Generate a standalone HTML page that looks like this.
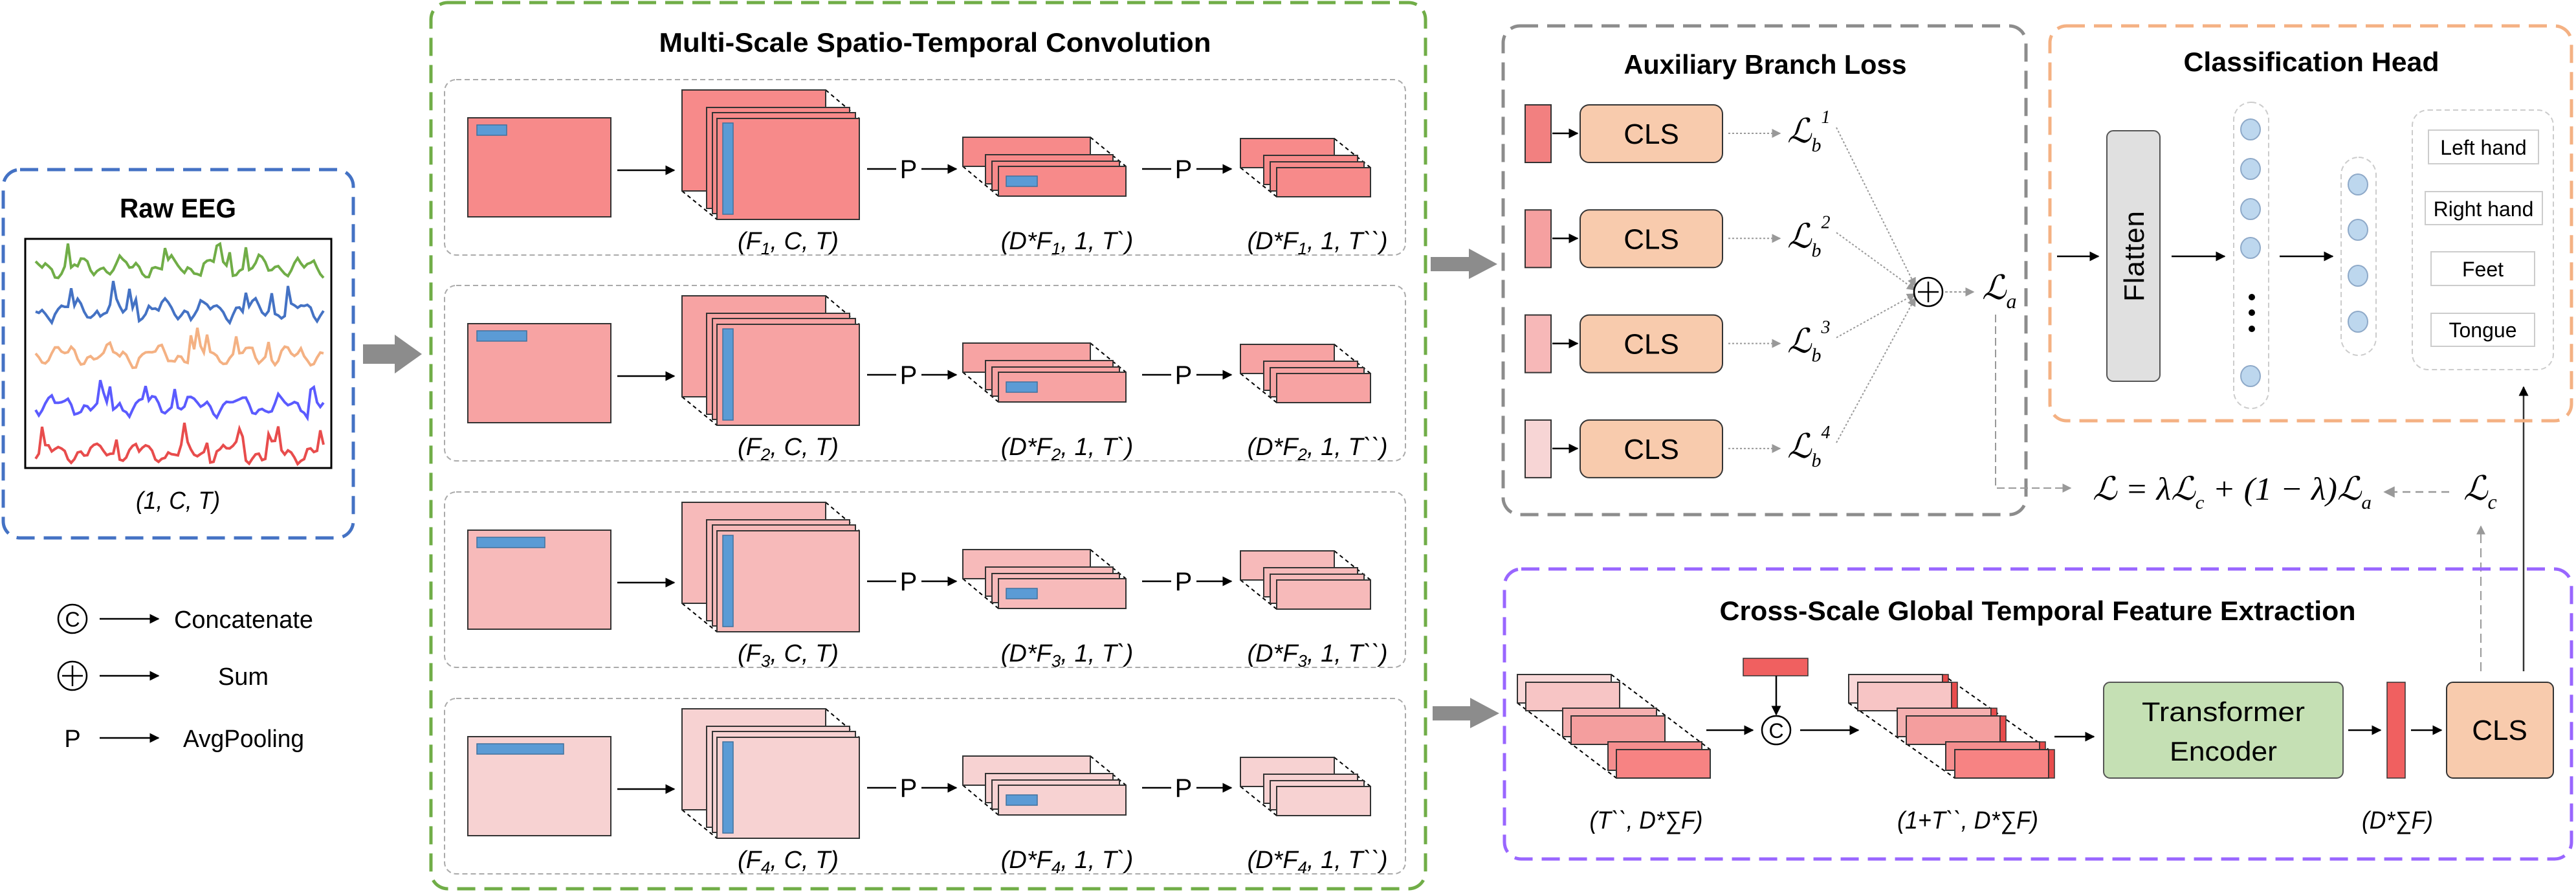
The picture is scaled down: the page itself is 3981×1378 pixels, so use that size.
<!DOCTYPE html>
<html><head><meta charset="utf-8"><style>
html,body{margin:0;padding:0;background:#fff}
svg{display:block}
text{font-family:"Liberation Sans",sans-serif}
.t{font-weight:bold;font-size:42px}
.lab{font-style:italic;font-size:38px}
.m{font-family:"Liberation Serif","DejaVu Serif",serif;font-style:italic}
</style></head><body>
<svg xmlns="http://www.w3.org/2000/svg" width="3981" height="1378" viewBox="0 0 3981 1378">
<defs>
<marker id="a" viewBox="0 0 10 10" refX="9" refY="5" markerWidth="6" markerHeight="6" orient="auto"><path d="M0,0L10,5L0,10z" fill="#000"/></marker>
<marker id="g" viewBox="0 0 10 10" refX="9" refY="5" markerWidth="7" markerHeight="7" orient="auto"><path d="M0,0L10,5L0,10z" fill="#999"/></marker>
</defs>

<!-- Raw EEG -->
<rect x="5" y="262" width="541" height="569" rx="26" fill="none" stroke="#4472C4" stroke-width="5" stroke-dasharray="28,14"/>
<text x="275" y="336" class="t" text-anchor="middle" textLength="180" lengthAdjust="spacingAndGlyphs">Raw EEG</text>
<rect x="39" y="369" width="473" height="354" fill="#fff" stroke="#000" stroke-width="3"/>
<g id="waves" fill="none" stroke-width="4"></g>
<text x="275" y="786" class="lab" text-anchor="middle" textLength="130" lengthAdjust="spacingAndGlyphs">(1, C, T)</text>
<polygon points="561,532 610,532 610,517 652,547 610,577 610,562 561,562" fill="#8c8c8c"/>

<!-- Legend -->
<circle cx="112" cy="956" r="22" fill="none" stroke="#000" stroke-width="2.5"/>
<text x="112" y="968" font-size="32" text-anchor="middle">C</text>
<line x1="154" y1="956" x2="245" y2="956" stroke="#000" stroke-width="2.5" marker-end="url(#a)"/>
<text x="269" y="970" font-size="38" textLength="215" lengthAdjust="spacingAndGlyphs">Concatenate</text>
<circle cx="112" cy="1044" r="22" fill="none" stroke="#000" stroke-width="2.5"/>
<path d="M96,1044H128M112,1028V1060" stroke="#000" stroke-width="2.5"/>
<line x1="154" y1="1044" x2="245" y2="1044" stroke="#000" stroke-width="2.5" marker-end="url(#a)"/>
<text x="376" y="1058" font-size="38" text-anchor="middle">Sum</text>
<text x="112" y="1154" font-size="38" text-anchor="middle">P</text>
<line x1="154" y1="1140" x2="245" y2="1140" stroke="#000" stroke-width="2.5" marker-end="url(#a)"/>
<text x="283" y="1154" font-size="38" textLength="187" lengthAdjust="spacingAndGlyphs">AvgPooling</text>

<!-- Multi-scale box -->
<rect x="666" y="4" width="1537" height="1369" rx="26" fill="none" stroke="#70AD47" stroke-width="5" stroke-dasharray="28,14"/>
<text x="1445" y="80" class="t" text-anchor="middle" textLength="853" lengthAdjust="spacingAndGlyphs">Multi-Scale Spatio-Temporal Convolution</text>

<g id="rows"></g>

<polygon points="2211,397 2270,397 2270,384 2314,408 2270,431 2270,419 2211,419" fill="#8c8c8c"/>
<polygon points="2214,1091 2272,1091 2272,1078 2317,1102 2272,1125 2272,1113 2214,1113" fill="#8c8c8c"/>

<!-- Auxiliary -->
<rect x="2323" y="40" width="808" height="755" rx="26" fill="none" stroke="#8c8c8c" stroke-width="5" stroke-dasharray="28,14"/>
<text x="2728" y="114" class="t" text-anchor="middle" textLength="437" lengthAdjust="spacingAndGlyphs">Auxiliary Branch Loss</text>
<g id="aux"></g>
<circle cx="2980" cy="451" r="22" fill="#fff" stroke="#000" stroke-width="2.5"/>
<path d="M2964,451H2996M2980,435V467" stroke="#000" stroke-width="2.5"/>
<line x1="3006" y1="451" x2="3050" y2="451" stroke="#999" stroke-width="2" stroke-dasharray="4,3" marker-end="url(#g)"/>
<text x="3063" y="462" class="m" font-size="52">ℒ<tspan font-size="32" dy="14">a</tspan></text>
<polyline points="3084,486 3084,754 3200,754" fill="none" stroke="#999" stroke-width="2" stroke-dasharray="12,6" marker-end="url(#g)"/>
<text x="3234" y="772" class="m" font-size="50" textLength="431" lengthAdjust="spacingAndGlyphs">ℒ = λℒ<tspan font-size="30" dy="14">c</tspan><tspan dy="-14"> + (1 − λ)ℒ</tspan><tspan font-size="30" dy="14">a</tspan></text>
<line x1="3785" y1="760" x2="3685" y2="760" stroke="#999" stroke-width="2.5" stroke-dasharray="12,8" marker-end="url(#g)"/>
<text x="3807" y="772" class="m" font-size="52">ℒ<tspan font-size="32" dy="14">c</tspan></text>
<line x1="3834" y1="1037" x2="3834" y2="813" stroke="#999" stroke-width="2" stroke-dasharray="14,8" marker-end="url(#g)"/>
<line x1="3900" y1="1037" x2="3900" y2="598" stroke="#333" stroke-width="2.5" marker-end="url(#a)"/>

<!-- Classification head -->
<rect x="3168" y="40" width="806" height="610" rx="26" fill="none" stroke="#F4B183" stroke-width="5" stroke-dasharray="28,14"/>
<text x="3572" y="110" class="t" text-anchor="middle" textLength="395" lengthAdjust="spacingAndGlyphs">Classification Head</text>
<line x1="3179" y1="396" x2="3243" y2="396" stroke="#000" stroke-width="2.5" marker-end="url(#a)"/>
<rect x="3256" y="202" width="82" height="387" rx="10" fill="#E0E0E0" stroke="#555" stroke-width="2"/>
<text transform="translate(3313,396) rotate(-90)" font-size="44" text-anchor="middle" textLength="140" lengthAdjust="spacing">Flatten</text>
<line x1="3356" y1="396" x2="3438" y2="396" stroke="#000" stroke-width="2.5" marker-end="url(#a)"/>
<rect x="3452" y="158" width="54" height="473" rx="27" fill="none" stroke="#ccc" stroke-width="2" stroke-dasharray="8,5"/>
<g fill="#BDD7EE" stroke="#8EA9C8" stroke-width="2">
<ellipse cx="3478" cy="200" rx="15" ry="16"/><ellipse cx="3478" cy="261" rx="15" ry="16"/><ellipse cx="3478" cy="323" rx="15" ry="16"/><ellipse cx="3478" cy="383" rx="15" ry="16"/><ellipse cx="3478" cy="581" rx="15" ry="16"/>
<ellipse cx="3644" cy="285" rx="15" ry="16"/><ellipse cx="3644" cy="355" rx="15" ry="16"/><ellipse cx="3644" cy="426" rx="15" ry="16"/><ellipse cx="3644" cy="497" rx="15" ry="16"/>
</g>
<g fill="#000"><circle cx="3480" cy="459" r="5"/><circle cx="3480" cy="483" r="5"/><circle cx="3480" cy="508" r="5"/></g>
<line x1="3523" y1="396" x2="3605" y2="396" stroke="#000" stroke-width="2.5" marker-end="url(#a)"/>
<rect x="3618" y="243" width="54" height="306" rx="27" fill="none" stroke="#ccc" stroke-width="2" stroke-dasharray="8,5"/>
<rect x="3728" y="170" width="218" height="401" rx="24" fill="none" stroke="#ccc" stroke-width="2" stroke-dasharray="8,5"/>
<g fill="#fff" stroke="#ccc" stroke-width="2">
<rect x="3753" y="201" width="170" height="52"/><rect x="3748" y="296" width="181" height="51"/><rect x="3757" y="389" width="160" height="52"/><rect x="3757" y="484" width="160" height="51"/>
</g>
<g font-size="32" text-anchor="middle">
<text x="3838" y="239">Left hand</text><text x="3838" y="334">Right hand</text><text x="3837" y="427">Feet</text><text x="3837" y="521">Tongue</text>
</g>

<!-- Cross-scale -->
<rect x="2325" y="879" width="1649" height="448" rx="26" fill="none" stroke="#9966FF" stroke-width="5" stroke-dasharray="28,14"/>
<text x="3149" y="958" class="t" text-anchor="middle" textLength="983" lengthAdjust="spacingAndGlyphs">Cross-Scale Global Temporal Feature Extraction</text>
<g id="cs"></g>
<line x1="2637" y1="1128" x2="2709" y2="1128" stroke="#000" stroke-width="2.5" marker-end="url(#a)"/>
<rect x="2694" y="1017" width="100" height="27" fill="#F06060" stroke="#333" stroke-width="1.5"/>
<line x1="2745" y1="1044" x2="2745" y2="1104" stroke="#000" stroke-width="2.5" marker-end="url(#a)"/>
<ellipse cx="2745" cy="1128" rx="22" ry="22" fill="#fff" stroke="#000" stroke-width="2.5"/>
<text x="2745" y="1140" font-size="32" text-anchor="middle">C</text>
<line x1="2782" y1="1128" x2="2872" y2="1128" stroke="#000" stroke-width="2.5" marker-end="url(#a)"/>
<line x1="3175" y1="1138" x2="3236" y2="1138" stroke="#000" stroke-width="2.5" marker-end="url(#a)"/>
<rect x="3251" y="1054" width="370" height="148" rx="10" fill="#C5E0B4" stroke="#555" stroke-width="2"/>
<text x="3436" y="1114" font-size="42" text-anchor="middle" textLength="252" lengthAdjust="spacingAndGlyphs">Transformer</text>
<text x="3436" y="1175" font-size="42" text-anchor="middle" textLength="166" lengthAdjust="spacingAndGlyphs">Encoder</text>
<line x1="3629" y1="1128" x2="3679" y2="1128" stroke="#000" stroke-width="2.5" marker-end="url(#a)"/>
<rect x="3689" y="1054" width="28" height="148" fill="#F06060" stroke="#333" stroke-width="1.5"/>
<line x1="3726" y1="1128" x2="3773" y2="1128" stroke="#000" stroke-width="2.5" marker-end="url(#a)"/>
<rect x="3781" y="1054" width="165" height="148" rx="10" fill="#F8CBAD" stroke="#333" stroke-width="2"/>
<text x="3863" y="1143" font-size="44" text-anchor="middle">CLS</text>
<text x="2544" y="1280" class="lab" text-anchor="middle" textLength="175" lengthAdjust="spacingAndGlyphs">(T``, D*∑F)</text>
<text x="3041" y="1280" class="lab" text-anchor="middle" textLength="218" lengthAdjust="spacingAndGlyphs">(1+T``, D*∑F)</text>
<text x="3705" y="1280" class="lab" text-anchor="middle" textLength="110" lengthAdjust="spacingAndGlyphs">(D*∑F)</text>
</svg>
<script>
var NS="http://www.w3.org/2000/svg";
function el(p,t,a,txt){var e=document.createElementNS(NS,t);for(var k in a)e.setAttribute(k,a[k]);if(txt!=null)e.innerHTML=txt;p.appendChild(e);return e;}
var W=document.getElementById('waves');
var cols=["#70AD47","#4472C4","#F4B183","#5B5BFF","#E84C4C"],ys=[413,479,549,626,699];
var seed=7;function r(){seed=(seed*9301+49297)%233280;return seed/233280;}
for(var i=0;i<5;i++){var d="";for(var x=55;x<=500;x+=5){var y=ys[i]+Math.sin(x*0.09+i)*10+Math.sin(x*0.23+i*2)*7+(r()-0.5)*8;if(r()<0.06)y-=28;d+=(x==55?"M":"L")+x+","+y.toFixed(1);}el(W,"path",{d:d,stroke:cols[i]});}
var R=document.getElementById('rows');
var fills=["#F78A8A","#F7A3A3","#F7BABA","#F7D2D2"],bw=[46,77,105,134],sub=["1","2","3","4"];
function stack(g,layers,fill,dl){
 el(g,"line",{x1:dl[0],y1:dl[1],x2:dl[2],y2:dl[3],stroke:"#000","stroke-width":2,"stroke-dasharray":"6,5"});
 el(g,"line",{x1:dl[4],y1:dl[5],x2:dl[6],y2:dl[7],stroke:"#000","stroke-width":2,"stroke-dasharray":"6,5"});
 layers.forEach(function(L){el(g,"rect",{x:L[0],y:L[1],width:L[2],height:L[3],fill:fill,stroke:"#333","stroke-width":2});});
}
for(var i=0;i<4;i++){
 var g=el(R,"g",{transform:"translate(0,"+[0,318,637,956][i]+")"});
 el(g,"rect",{x:687,y:123,width:1485,height:271,rx:18,fill:"none",stroke:"#aaa","stroke-width":2,"stroke-dasharray":"8,5"});
 el(g,"rect",{x:723,y:182,width:221,height:153,fill:fills[i],stroke:"#333","stroke-width":2});
 el(g,"rect",{x:737,y:193,width:bw[i],height:16,fill:"#5B9BD5",stroke:"#41719C","stroke-width":1.5});
 el(g,"line",{x1:954,y1:263,x2:1042,y2:263,stroke:"#000","stroke-width":2.5,"marker-end":"url(#a)"});
 stack(g,[[1054,139,222,156],[1092,166,221,156],[1101,174,221,156],[1108,183,220,156]],fills[i],[1276,139,1328,183,1054,295,1108,339]);
 el(g,"rect",{x:1117,y:190,width:16,height:141,fill:"#5B9BD5",stroke:"#41719C","stroke-width":1.5});
 el(g,"line",{x1:1340,y1:261,x2:1385,y2:261,stroke:"#000","stroke-width":2.5});
 el(g,"text",{x:1404,y:275,"font-size":40,"text-anchor":"middle"},"P");
 el(g,"line",{x1:1424,y1:261,x2:1478,y2:261,stroke:"#000","stroke-width":2.5,"marker-end":"url(#a)"});
 stack(g,[[1488,212,197,45],[1523,239,197,45],[1533,249,197,45],[1543,257,197,46]],fills[i],[1685,212,1740,257,1488,257,1543,303]);
 el(g,"rect",{x:1555,y:272,width:48,height:16,fill:"#5B9BD5",stroke:"#41719C","stroke-width":1.5});
 el(g,"line",{x1:1765,y1:261,x2:1810,y2:261,stroke:"#000","stroke-width":2.5});
 el(g,"text",{x:1829,y:275,"font-size":40,"text-anchor":"middle"},"P");
 el(g,"line",{x1:1849,y1:261,x2:1903,y2:261,stroke:"#000","stroke-width":2.5,"marker-end":"url(#a)"});
 stack(g,[[1917,214,145,45],[1953,240,145,45],[1963,250,145,45],[1973,259,145,45]],fills[i],[2062,214,2118,259,1917,259,1973,304]);
 var s='<tspan font-size="26" dy="8">'+sub[i]+'</tspan><tspan dy="-8">';
 el(g,"text",{x:1218,y:385,"class":"lab","text-anchor":"middle"},"(F"+s+", C, T)</tspan>");
 el(g,"text",{x:1649,y:385,"class":"lab","text-anchor":"middle"},"(D*F"+s+", 1, T`)</tspan>");
 el(g,"text",{x:2036,y:385,"class":"lab","text-anchor":"middle"},"(D*F"+s+", 1, T``)</tspan>");
}
var A=document.getElementById('aux');var af=["#F28080","#F5A0A0","#F7B8B8","#F7D5D5"];
for(var i=0;i<4;i++){var y=162+i*162.3;
 el(A,"rect",{x:2357,y:y,width:40,height:89,fill:af[i],stroke:"#333","stroke-width":2});
 el(A,"line",{x1:2399,y1:y+44,x2:2438,y2:y+44,stroke:"#000","stroke-width":2.5,"marker-end":"url(#a)"});
 el(A,"rect",{x:2442,y:y,width:220,height:89,rx:14,fill:"#F8CBAD",stroke:"#333","stroke-width":2});
 el(A,"text",{x:2552,y:y+60,"font-size":44,"text-anchor":"middle"},"CLS");
 el(A,"line",{x1:2671,y1:y+44,x2:2751,y2:y+44,stroke:"#999","stroke-width":2,"stroke-dasharray":"3,3","marker-end":"url(#g)"});
 el(A,"text",{x:2762,y:y+58,"class":"m","font-size":52},'ℒ<tspan font-size="30" dy="14">b</tspan><tspan font-size="28" dy="-44">'+(i+1)+'</tspan>');
 el(A,"line",{x1:2838,y1:y+35,x2:2960,y2:451+(i-1.5)*6,stroke:"#999","stroke-width":2,"stroke-dasharray":"3,3","marker-end":"url(#g)"});
}
var C=document.getElementById('cs');var cf=["#F9D8D8","#F7C5C5","#F5B0B0","#F49E9E","#F58E8E","#F78383"];
function cstack(x0,y0,sx,sp,red){var k=0;
 el(C,"line",{x1:x0+145,y1:y0,x2:x0+sx*2+sp+145,y2:y0+116,stroke:"#000","stroke-width":2,"stroke-dasharray":"6,5"});
 el(C,"line",{x1:x0,y1:y0+44,x2:x0+sx*2+sp,y2:y0+160,stroke:"#000","stroke-width":2,"stroke-dasharray":"6,5"});
 for(var p=0;p<3;p++)for(var q=0;q<2;q++){var x=x0+p*sx+q*sp,y=y0+p*52+q*12;
  el(C,"rect",{x:x,y:y,width:145,height:44,fill:cf[k++],stroke:"#333","stroke-width":2});
  if(red)el(C,"rect",{x:x+145,y:y,width:9,height:44,fill:"#E84C4C",stroke:"#333","stroke-width":1.5});}
}
cstack(2345,1042,70,13,false);
cstack(2857,1042,75,14,true);
</script>
</body></html>
